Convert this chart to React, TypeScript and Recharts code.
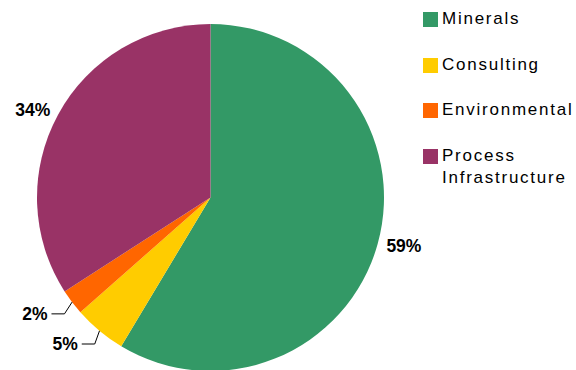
import type { JSX } from 'react'
import { PieChart, Pie, Cell } from 'recharts'

const divisions = ['Minerals', 'Consulting', 'Environmental', 'Process Infrastructure']
const shares = [58.6, 4.9, 2.4, 34.1]
const colors = ['#339966', '#FFCC00', '#FF6600', '#993366']

const data = divisions.map((name, i) => ({ name, value: shares[i] }))

const RAD = Math.PI / 180
const FONT = 'Liberation Sans, Arial, sans-serif'

/**
 * Percentage label; small slices get a bent leader line like the original.
 */
const renderLabel = (props: any): JSX.Element => {
  const { cx, cy, midAngle, outerRadius, percent } = props
  const cos = Math.cos(-midAngle * RAD)
  const sin = Math.sin(-midAngle * RAD)
  const text = `${Math.round(percent * 100)}%`
  const left = cos < 0
  const textProps = {
    dominantBaseline: 'central' as const,
    fontFamily: FONT,
    fontWeight: 'bold',
    fontSize: 17.5,
    fill: '#000',
  }

  if (percent < 0.1) {
    const sx = cx + outerRadius * cos
    const sy = cy + outerRadius * sin
    // leader bends a bit more downward than radial, as in the original
    const tilt = (-midAngle + (sin > 0 ? 20 : -20) * (left ? -1 : 1)) * RAD
    const mx = sx + 14 * Math.cos(tilt)
    const my = sy + 14 * Math.sin(tilt)
    const ex = mx + (left ? -13 : 13)
    return (
      <g>
        <path d={`M${sx},${sy}L${mx},${my}L${ex},${my}`} stroke="#000" fill="none" strokeWidth={1} />
        <text x={ex + (left ? -4 : 4)} y={my} textAnchor={left ? 'end' : 'start'} {...textProps}>
          {text}
        </text>
      </g>
    )
  }

  const r = outerRadius + 9
  return (
    <text x={cx + r * cos} y={cy + r * sin} textAnchor={left ? 'end' : 'start'} {...textProps}>
      {text}
    </text>
  )
}

const ChartLegend = (): JSX.Element => (
  <div
    style={{
      position: 'absolute',
      top: 8,
      left: 423,
      fontFamily: FONT,
      fontSize: 17,
      letterSpacing: 1.75,
      color: '#000',
    }}
  >
    {divisions.map((name, i) => (
      <div key={name} style={{ display: 'flex', alignItems: 'flex-start', height: 45.6 }}>
        <div
          style={{
            width: 15,
            height: 15,
            background: colors[i],
            marginTop: 4,
            marginRight: 4,
            flexShrink: 0,
          }}
        />
        <div style={{ lineHeight: '22px' }}>
          {name.split(' ').map((w) => (
            <div key={w}>{w}</div>
          ))}
        </div>
      </div>
    ))}
  </div>
)

export default function App(): JSX.Element {
  return (
    <div style={{ position: 'absolute', top: 0, left: 0, width: 576, height: 370, background: '#fff' }}>
      <PieChart width={576} height={370} margin={{ top: 0, right: 0, bottom: 0, left: 0 }}>
        <Pie
          data={data}
          dataKey="value"
          nameKey="name"
          cx={210.5}
          cy={197.5}
          outerRadius={173.5}
          startAngle={90}
          endAngle={-270}
          stroke="none"
          label={renderLabel}
          labelLine={false}
          isAnimationActive={false}
        >
          {data.map((d, i) => (
            <Cell key={d.name} fill={colors[i]} />
          ))}
        </Pie>
      </PieChart>
      <ChartLegend />
    </div>
  )
}
